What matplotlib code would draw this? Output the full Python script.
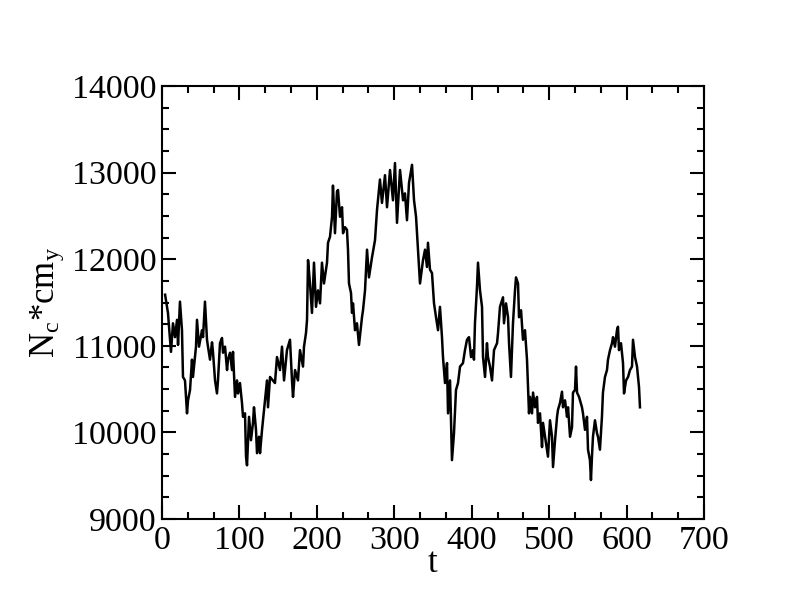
import matplotlib
matplotlib.use("Agg")
import matplotlib.pyplot as plt
from matplotlib.ticker import MultipleLocator

# values (t, N_c*cm_y)
t = [4.0, 7.7, 11.6, 14.2, 16.8, 19.4, 20.7, 23.2, 25.8, 27.1, 29.7, 32.3, 33.6, 36.2,
     38.7, 40.0, 43.9, 45.2, 47.8, 51.7, 53.0, 55.5, 58.1, 59.4, 62.0, 64.6, 65.9, 68.5,
     71.0, 72.3, 74.9, 77.5, 78.8, 81.4, 84.0, 85.2, 87.8, 90.4, 91.7, 94.3, 96.9, 98.2,
     100.7, 103.3, 104.6, 107.2, 108.5, 109.8, 112.4, 114.9, 117.5, 118.8, 121.4, 122.7,
     125.3, 126.6, 129.2, 135.6, 136.9, 139.5, 145.9, 148.5, 152.4, 155.0, 157.6, 161.4,
     165.3, 167.9, 169.2, 171.8, 175.6, 178.2, 182.1, 183.4, 186.0, 187.3, 188.6, 191.1,
     193.7, 196.3, 198.9, 201.5, 204.1, 206.6, 209.2, 213.1, 214.4, 217.0, 219.6, 220.8,
     223.4, 226.0, 227.3, 229.9, 232.5, 233.8, 236.3, 238.9, 240.2, 241.5, 244.1, 245.4,
     246.7, 249.3, 251.8, 254.4, 258.3, 259.6, 262.2, 264.8, 267.3, 271.2, 275.1, 277.7,
     281.5, 284.1, 288.0, 290.6, 294.5, 298.3, 300.9, 303.5, 307.4, 311.3, 313.8, 316.4,
     319.0, 322.9, 325.5, 328.1, 330.6, 333.2, 337.1, 339.7, 342.2, 343.5, 346.1, 348.7,
     351.3, 353.9, 356.5, 359.0, 361.6, 362.9, 365.5, 368.1, 369.4, 372.0, 374.5, 377.1,
     379.7, 382.3, 384.9, 388.7, 391.3, 393.9, 396.5, 399.1, 401.7, 402.9, 404.2, 406.8,
     408.1, 410.7, 413.3, 414.6, 417.2, 419.7, 421.0, 423.6, 426.2, 428.8, 432.7, 434.0,
     436.5, 440.4, 441.7, 444.3, 446.9, 448.2, 450.7, 453.3, 455.9, 457.2, 459.8, 461.1,
     463.7, 466.2, 468.8, 471.4, 474.0, 475.3, 477.9, 479.2, 481.7, 484.3, 485.6, 488.2,
     490.8, 492.1, 494.7, 497.2, 498.5, 501.1, 503.7, 505.0, 507.6, 510.2, 511.4, 514.0,
     516.6, 517.9, 520.5, 523.1, 524.4, 527.0, 529.5, 530.8, 533.4, 534.7, 536.0, 538.6,
     542.4, 543.7, 546.3, 548.9, 550.2, 552.7, 554.0, 555.3, 556.6, 559.2, 561.8, 563.1,
     565.6, 568.2, 569.5, 572.1, 574.7, 576.0, 578.6, 581.2, 582.5, 585.0, 587.6, 588.9,
     590.2, 592.8, 595.4, 596.7, 599.3, 601.9, 604.4, 607.0, 608.3, 610.9, 613.5, 614.8,
     616.1, 617.3]
ncm = [11590, 11380, 10930, 11260, 11100, 11300, 11010, 11510, 11180, 10640, 10600, 10220,
       10370, 10490, 10840, 10640, 10990, 11300, 10990, 11180, 11100, 11510, 11070, 10990,
       10840, 11040, 10920, 10600, 10450, 10600, 11030, 11090, 10920, 10990, 10720, 10840,
       10920, 10720, 10930, 10410, 10600, 10450, 10570, 10340, 10180, 10220, 9720, 9620,
       10180, 9910, 10110, 10290, 10030, 9760, 9950, 9760, 10030, 10600, 10290, 10640,
       10570, 10870, 10720, 10990, 10600, 10950, 11070, 10600, 10410, 10720, 10600, 10950,
       10760, 10990, 11150, 11300, 11990, 11720, 11380, 11960, 11450, 11640, 11490, 11960,
       11720, 11960, 12190, 12260, 12490, 12850, 12300, 12780, 12800, 12490, 12600, 12300,
       12370, 12340, 12110, 11720, 11610, 11380, 11490, 11180, 11260, 11010, 11330, 11410,
       11640, 12110, 11790, 12020, 12220, 12570, 12920, 12650, 12970, 12600, 13030, 12680,
       13110, 12420, 13030, 12680, 12760, 12450, 12880, 13090, 12680, 12490, 12110, 11720,
       11990, 12110, 11910, 12190, 11880, 11840, 11490, 11330, 11180, 11450, 11100, 10870,
       10570, 10800, 10220, 10600, 9680, 9990, 10490, 10570, 10760, 10800, 10950, 11070,
       11100, 10870, 10950, 10840, 11260, 11680, 11960, 11640, 11450, 10870, 10640, 11030,
       10870, 10760, 10600, 10950, 11030, 11150, 11450, 11560, 11260, 11490, 11330, 11030,
       10640, 11260, 11640, 11790, 11720, 11330, 11410, 11070, 11180, 10840, 10220, 10410,
       10220, 10460, 10290, 10410, 10110, 10220, 9830, 10110, 9950, 9800, 9720, 10140,
       9950, 9600, 9910, 10180, 10260, 10340, 10470, 10290, 10370, 10180, 10290, 9950,
       10060, 10460, 10490, 10760, 10460, 10410, 10290, 10220, 10030, 10180, 9800, 9680,
       9450, 9720, 9950, 10140, 9990, 9950, 9800, 10180, 10460, 10640, 10720, 10840,
       10950, 11030, 11100, 10990, 11180, 11220, 10950, 11030, 10800, 10450, 10600, 10640,
       10720, 10760, 11070, 10870, 10760, 10640, 10520, 10290]

plt.rcParams['font.family'] = ['Liberation Serif', 'DejaVu Serif']
plt.rcParams['mathtext.fontset'] = 'custom'
plt.rcParams['mathtext.rm'] = 'Liberation Serif'
plt.rcParams['mathtext.it'] = 'Liberation Serif'

fig = plt.figure(figsize=(7.92, 6.12), dpi=100)
ax = fig.add_axes([162 / 792, 1 - 519 / 612, 542 / 792, 433 / 612])

ax.plot(t, ncm, color='black', lw=1.8)

ax.set_xlim(0, 700)
ax.set_ylim(9000, 14000)
ax.xaxis.set_major_locator(MultipleLocator(100))
ax.xaxis.set_minor_locator(MultipleLocator(100 / 3))
ax.yaxis.set_major_locator(MultipleLocator(1000))
ax.yaxis.set_minor_locator(MultipleLocator(250))

ax.tick_params(which='both', direction='in', top=True, right=True, width=1.5,
               labelsize=24.5)
ax.tick_params(which='major', length=10)
ax.tick_params(which='minor', length=5)
ax.tick_params(axis='x', pad=5)
ax.tick_params(axis='y', pad=4)
for s in ax.spines.values():
    s.set_linewidth(1.5)

ax.set_xlabel('t', fontsize=25, labelpad=-7)
ax.set_ylabel('N$_c$*cm$_y$', fontsize=25, labelpad=4)

fig.savefig('out.png', dpi=100)
